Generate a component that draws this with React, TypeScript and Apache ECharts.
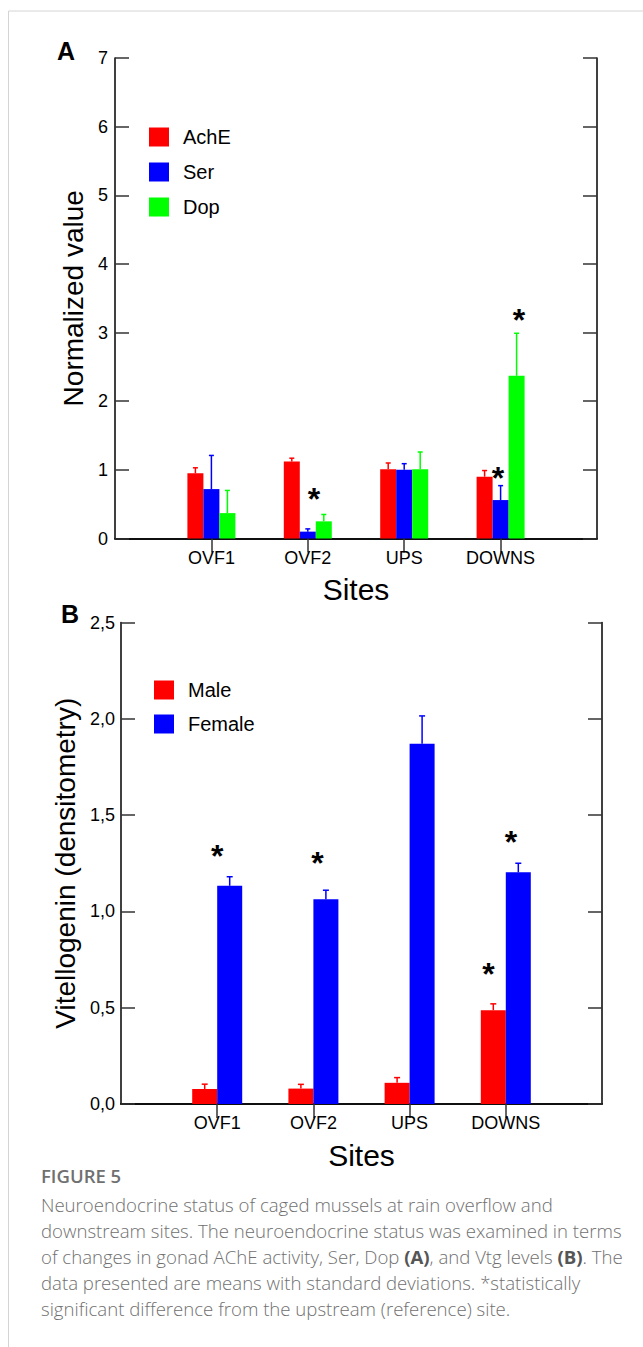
import React, { useEffect, useRef } from "react";
import * as echarts from "echarts";

// ---------- data ----------
const sites = ["", "OVF1", "OVF2", "UPS", "DOWNS", ""];

// Panel A (normalized values, means and SD)
const achE = [0.95, 1.12, 1.01, 0.9];
const achESd = [0.08, 0.05, 0.09, 0.09];
const ser = [0.72, 0.1, 1.0, 0.56];
const serSd = [0.49, 0.04, 0.09, 0.21];
const dop = [0.37, 0.25, 1.01, 2.37];
const dopSd = [0.33, 0.1, 0.25, 0.62];
// stars: [site index, shift in site widths, value]
const starsA = [
  [2, 0.064, 0.68],
  [4, -0.027, 0.98],
  [4, 0.19, 3.28],
];

// Panel B (vitellogenin, means and SD)
const male = [0.078, 0.08, 0.11, 0.487];
const maleSd = [0.025, 0.022, 0.027, 0.033];
const female = [1.133, 1.063, 1.87, 1.203];
const femaleSd = [0.047, 0.047, 0.145, 0.047];
const starsB = [
  [1, 0.0, 1.324],
  [2, 0.043, 1.288],
  [4, 0.054, 1.397],
  [4, -0.18, 0.711],
];

const captionTitle = "FIGURE 5";
const captionLines = [
  "Neuroendocrine status of caged mussels at rain overflow and",
  "downstream sites. The neuroendocrine status was examined in terms",
  "of changes in gonad AChE activity, Ser, Dop {b|(A)}, and Vtg levels {b|(B)}. The",
  "data presented are means with standard deviations. *statistically",
  "significant difference from the upstream (reference) site.",
];

const FONT = "Liberation Sans, Arial, sans-serif";
const CAP_FONT = "Open Sans, Noto Sans, sans-serif";
const RED = "#ff0000";
const BLUE = "#0000ff";
const GREEN = "#00ff00";

const pad = (arr: number[]) => [null, ...arr, null];

function errSeries(
  means: number[],
  sds: number[],
  slot: number,
  barW: number,
  capW: number,
  color: string,
  axisIdx: number
) {
  return {
    type: "custom",
    xAxisIndex: axisIdx,
    yAxisIndex: axisIdx,
    z: 5,
    clip: false,
    encode: { x: 0, y: 1 },
    data: means.map((m, i) => [i + 1, m, sds[i]]),
    renderItem: (params: any, api: any) => {
      const cat = api.value(0);
      const mean = api.value(1);
      const sd = api.value(2);
      const base = api.coord([cat, mean]);
      const top = api.coord([cat, mean + sd]);
      const x = base[0] + slot * barW;
      return {
        type: "group",
        children: [
          {
            type: "line",
            shape: { x1: x, y1: base[1], x2: x, y2: top[1] },
            style: { stroke: color, lineWidth: 1.5 },
          },
          {
            type: "line",
            shape: { x1: x - capW / 2, y1: top[1], x2: x + capW / 2, y2: top[1] },
            style: { stroke: color, lineWidth: 1.5 },
          },
        ],
      };
    },
  };
}

function starSeries(stars: number[][], axisIdx: number) {
  return {
    type: "custom",
    xAxisIndex: axisIdx,
    yAxisIndex: axisIdx,
    z: 6,
    clip: false,
    encode: { x: 0, y: 2 },
    data: stars,
    renderItem: (params: any, api: any) => {
      const c = api.coord([api.value(0), api.value(2)]);
      const bw = api.size([1, 0])[0];
      return {
        type: "text",
        x: c[0] + api.value(1) * bw,
        y: c[1] + 7,
        style: {
          text: "*",
          fontSize: 32,
          fontWeight: "bold",
          fontFamily: FONT,
          fill: "#000",
          align: "center",
          verticalAlign: "middle",
        },
      };
    },
  };
}

const axisLineStyle = { lineStyle: { color: "#000", width: 1.5 } };
const tickStyle = { inside: true, length: 14, lineStyle: { color: "#333", width: 1.5 } };

function catAxes(gridIndex: number) {
  return [
    {
      type: "category",
      gridIndex,
      data: sites,
      boundaryGap: false,
      position: "bottom",
      axisLine: axisLineStyle,
      axisTick: { show: false },
      axisLabel: { fontSize: 18, color: "#000", margin: 10, fontFamily: FONT, interval: 0 },
      name: "Sites",
      nameLocation: "middle",
      nameGap: 36,
      nameTextStyle: { fontSize: 30, color: "#000", fontFamily: FONT },
    },
    {
      type: "category",
      gridIndex,
      data: sites,
      boundaryGap: false,
      position: "top",
      axisLine: axisLineStyle,
      axisTick: { ...tickStyle, interval: (i: number) => i > 0 && i < sites.length - 1 },
      axisLabel: { show: false },
    },
  ];
}

function valAxes(
  gridIndex: number,
  max: number,
  interval: number,
  name: string,
  nameGap: number,
  fmt: (v: number) => string,
  margin: number
) {
  return [
    {
      type: "value",
      gridIndex,
      min: 0,
      max,
      interval,
      position: "left",
      axisLine: { show: true, ...axisLineStyle },
      axisTick: { show: true, ...tickStyle },
      splitLine: { show: false },
      axisLabel: { fontSize: 18, color: "#000", margin, fontFamily: FONT, formatter: fmt },
      name,
      nameLocation: "middle",
      nameGap,
      nameTextStyle: { fontSize: 28, color: "#000", fontFamily: FONT },
    },
    {
      type: "value",
      gridIndex,
      min: 0,
      max,
      interval,
      position: "right",
      axisLine: { show: true, ...axisLineStyle },
      axisTick: { show: true, ...tickStyle },
      splitLine: { show: false },
      axisLabel: { show: false },
    },
  ];
}

export default function App() {
  const ref = useRef<HTMLDivElement>(null);
  useEffect(() => {
    if (!ref.current) return;
    const chart = echarts.init(ref.current, null, { renderer: "svg" });
    const bwA = 16;
    const bwB = 25;
    const option: any = {
      animation: false,
      textStyle: { fontFamily: FONT },
      grid: [
        { left: 115, top: 58, width: 482, height: 480.5 },
        { left: 121, top: 622.5, width: 481, height: 481.5 },
      ],
      xAxis: [...catAxes(0), ...catAxes(1)],
      yAxis: [
        ...valAxes(0, 7, 1, "Normalized value", 17, (v: number) => String(v), 7),
        ...valAxes(1, 2.5, 0.5, "Vitellogenin (densitometry)", 36, (v: number) => v.toFixed(1).replace(".", ","), 6),
      ],
      legend: [
        {
          data: ["AchE", "Ser", "Dop"],
          orient: "vertical",
          left: 149,
          top: 127,
          padding: 0,
          itemWidth: 20,
          itemHeight: 19,
          itemGap: 15,
          icon: "rect",
          selectedMode: false,
          textStyle: { fontSize: 20, color: "#000", fontFamily: FONT, padding: [0, 0, 0, 9] },
        },
        {
          data: ["Male", "Female"],
          orient: "vertical",
          left: 154,
          top: 680,
          padding: 0,
          itemWidth: 20,
          itemHeight: 19,
          itemGap: 14,
          icon: "rect",
          selectedMode: false,
          textStyle: { fontSize: 20, color: "#000", fontFamily: FONT, padding: [0, 0, 0, 9] },
        },
      ],
      series: [
        { name: "AchE", type: "bar", xAxisIndex: 0, yAxisIndex: 0, data: pad(achE), barWidth: bwA, barGap: "0%", itemStyle: { color: RED } },
        { name: "Ser", type: "bar", xAxisIndex: 0, yAxisIndex: 0, data: pad(ser), barWidth: bwA, barGap: "0%", itemStyle: { color: BLUE } },
        { name: "Dop", type: "bar", xAxisIndex: 0, yAxisIndex: 0, data: pad(dop), barWidth: bwA, barGap: "0%", itemStyle: { color: GREEN } },
        errSeries(achE, achESd, -1, bwA, 5, RED, 0),
        errSeries(ser, serSd, 0, bwA, 5, BLUE, 0),
        errSeries(dop, dopSd, 1, bwA, 5, GREEN, 0),
        starSeries(starsA, 0),
        { name: "Male", type: "bar", xAxisIndex: 2, yAxisIndex: 2, data: pad(male), barWidth: bwB, barGap: "0%", itemStyle: { color: RED } },
        { name: "Female", type: "bar", xAxisIndex: 2, yAxisIndex: 2, data: pad(female), barWidth: bwB, barGap: "0%", itemStyle: { color: BLUE } },
        errSeries(male, maleSd, -0.5, bwB, 6, RED, 2),
        errSeries(female, femaleSd, 0.5, bwB, 6, BLUE, 2),
        starSeries(starsB, 2),
      ],
      graphic: [
        { type: "line", shape: { x1: 8.5, y1: 11, x2: 8.5, y2: 1347 }, style: { stroke: "#d4d4d4", lineWidth: 1 } },
        { type: "line", shape: { x1: 8.5, y1: 11, x2: 643, y2: 11 }, style: { stroke: "#d4d4d4", lineWidth: 1 } },
        { type: "text", x: 57, y: 38, style: { text: "A", fontSize: 25, fontWeight: "bold", fill: "#000", fontFamily: FONT } },
        { type: "text", x: 61, y: 601, style: { text: "B", fontSize: 25, fontWeight: "bold", fill: "#000", fontFamily: FONT } },
        {
          type: "text",
          x: 41,
          y: 1175,
          style: { text: captionTitle, fontSize: 18.5, fontWeight: 600, fill: "#707070", fontFamily: CAP_FONT, verticalAlign: "middle" },
        },
        ...captionLines.map((line, i) => ({
          type: "text",
          x: 41,
          y: 1204 + i * 26,
          style: {
            text: line,
            fontSize: 18.6,
            fontWeight: 300,
            fill: "#707070",
            fontFamily: CAP_FONT,
            verticalAlign: "middle",
            rich: {
              b: { fontSize: 18.6, fontWeight: "bold", fill: "#555", fontFamily: CAP_FONT },
            },
          },
        })),
      ],
    };
    chart.setOption(option);
    return () => chart.dispose();
  }, []);
  return (
    <div
      ref={ref}
      style={{ position: "absolute", left: 0, top: 0, width: 643, height: 1347, background: "#fff" }}
    />
  );
}
